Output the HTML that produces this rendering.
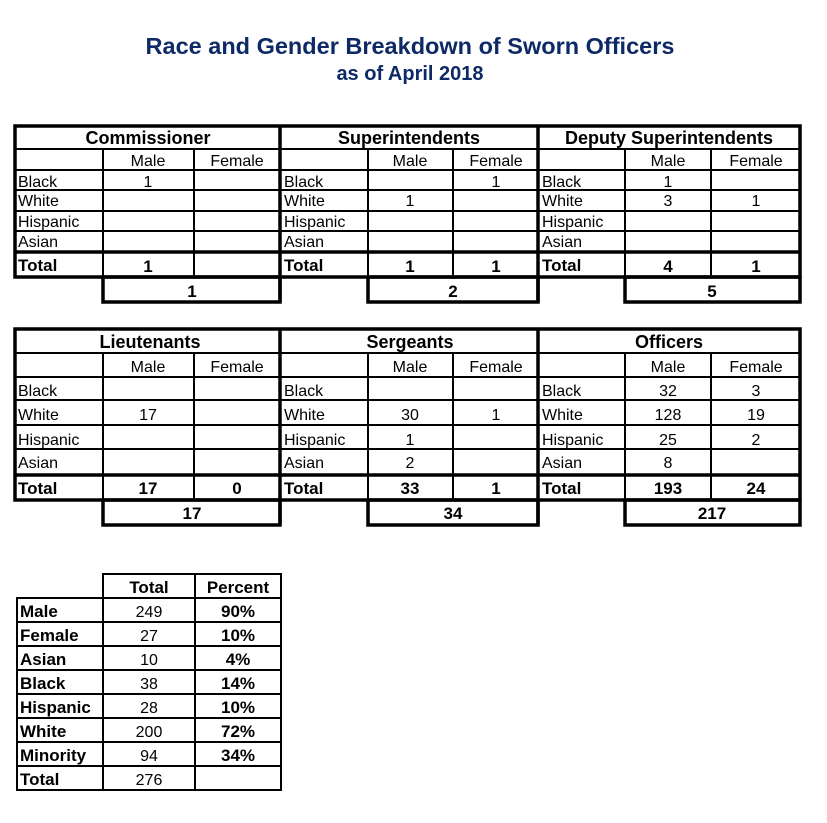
<!DOCTYPE html>
<html><head><meta charset="utf-8"><style>
html,body{margin:0;padding:0;background:#fff;}
svg{display:block;font-family:"Liberation Sans",Arial,sans-serif;}
.h{font-weight:bold;font-size:18px;text-anchor:middle;}
.s{font-size:16px;text-anchor:middle;}
.l{font-size:16px;}
.lb{font-size:17px;font-weight:bold;}
.b{font-size:17px;font-weight:bold;text-anchor:middle;}
.n{font-size:16px;text-anchor:middle;}
</style></head><body>
<svg width="827" height="823" viewBox="0 0 827 823" xmlns="http://www.w3.org/2000/svg">
<rect width="827" height="823" fill="#fff"/>
<text x="410" y="54" text-anchor="middle" font-size="23.5" font-weight="bold" fill="#0e2a66">Race and Gender Breakdown of Sworn Officers</text>
<text x="410" y="80" text-anchor="middle" font-size="20" font-weight="bold" fill="#0e2a66">as of April 2018</text>

<!-- TOP TABLE -->
<g stroke="#000" fill="none">
<g stroke-width="2">
<line x1="15" y1="149" x2="800" y2="149"/>
<line x1="15" y1="170" x2="800" y2="170"/>
<line x1="15" y1="190" x2="800" y2="190"/>
<line x1="15" y1="211" x2="800" y2="211"/>
<line x1="15" y1="231" x2="800" y2="231"/>
<line x1="103" y1="149" x2="103" y2="277"/><line x1="194" y1="149" x2="194" y2="277"/>
<line x1="368" y1="149" x2="368" y2="277"/><line x1="453" y1="149" x2="453" y2="277"/>
<line x1="625" y1="149" x2="625" y2="277"/><line x1="711" y1="149" x2="711" y2="277"/>
</g>
<g stroke-width="3.5">
<rect x="15" y="126" width="785" height="151"/>
<line x1="15" y1="252" x2="800" y2="252"/>
<line x1="280" y1="126" x2="280" y2="302"/>
<line x1="538" y1="126" x2="538" y2="302"/>
<rect x="103" y="277" width="177" height="25"/>
<rect x="368" y="277" width="170" height="25"/>
<rect x="625" y="277" width="175" height="25"/>
</g>
</g>
<text class="h" x="148" y="144">Commissioner</text>
<text class="h" x="409" y="144">Superintendents</text>
<text class="h" x="669" y="144">Deputy Superintendents</text>
<text class="s" x="148" y="166">Male</text><text class="s" x="237" y="166">Female</text>
<text class="s" x="410" y="166">Male</text><text class="s" x="496" y="166">Female</text>
<text class="s" x="668" y="166">Male</text><text class="s" x="756" y="166">Female</text>
<text class="l" x="18" y="187">Black</text><text class="l" x="18" y="206">White</text><text class="l" x="18" y="227">Hispanic</text><text class="l" x="18" y="247">Asian</text>
<text class="l" x="284" y="187">Black</text><text class="l" x="284" y="206">White</text><text class="l" x="284" y="227">Hispanic</text><text class="l" x="284" y="247">Asian</text>
<text class="l" x="542" y="187">Black</text><text class="l" x="542" y="206">White</text><text class="l" x="542" y="227">Hispanic</text><text class="l" x="542" y="247">Asian</text>
<text class="lb" x="18" y="271">Total</text><text class="lb" x="284" y="271">Total</text><text class="lb" x="542" y="271">Total</text>
<text class="n" x="148" y="187">1</text>
<text class="n" x="496" y="187">1</text>
<text class="n" x="410" y="206">1</text>
<text class="n" x="668" y="187">1</text>
<text class="n" x="668" y="206">3</text><text class="n" x="756" y="206">1</text>
<text class="b" x="148" y="272">1</text>
<text class="b" x="410" y="272">1</text><text class="b" x="496" y="272">1</text>
<text class="b" x="668" y="272">4</text><text class="b" x="756" y="272">1</text>
<text class="b" x="192" y="297">1</text>
<text class="b" x="453" y="297">2</text>
<text class="b" x="712" y="297">5</text>

<!-- BOTTOM TABLE -->
<g stroke="#000" fill="none">
<g stroke-width="2">
<line x1="15" y1="353" x2="800" y2="353"/>
<line x1="15" y1="377" x2="800" y2="377"/>
<line x1="15" y1="400" x2="800" y2="400"/>
<line x1="15" y1="425" x2="800" y2="425"/>
<line x1="15" y1="449" x2="800" y2="449"/>
<line x1="103" y1="353" x2="103" y2="500"/><line x1="194" y1="353" x2="194" y2="500"/>
<line x1="368" y1="353" x2="368" y2="500"/><line x1="453" y1="353" x2="453" y2="500"/>
<line x1="625" y1="353" x2="625" y2="500"/><line x1="711" y1="353" x2="711" y2="500"/>
</g>
<g stroke-width="3.5">
<rect x="15" y="329" width="785" height="171"/>
<line x1="15" y1="475" x2="800" y2="475"/>
<line x1="280" y1="329" x2="280" y2="525"/>
<line x1="538" y1="329" x2="538" y2="525"/>
<rect x="103" y="500" width="177" height="25"/>
<rect x="368" y="500" width="170" height="25"/>
<rect x="625" y="500" width="175" height="25"/>
</g>
</g>
<text class="h" x="150" y="348">Lieutenants</text>
<text class="h" x="410" y="348">Sergeants</text>
<text class="h" x="669" y="348">Officers</text>
<text class="s" x="148" y="372">Male</text><text class="s" x="237" y="372">Female</text>
<text class="s" x="410" y="372">Male</text><text class="s" x="496" y="372">Female</text>
<text class="s" x="668" y="372">Male</text><text class="s" x="756" y="372">Female</text>
<text class="l" x="18" y="396">Black</text><text class="l" x="18" y="420">White</text><text class="l" x="18" y="445">Hispanic</text><text class="l" x="18" y="468">Asian</text>
<text class="l" x="284" y="396">Black</text><text class="l" x="284" y="420">White</text><text class="l" x="284" y="445">Hispanic</text><text class="l" x="284" y="468">Asian</text>
<text class="l" x="542" y="396">Black</text><text class="l" x="542" y="420">White</text><text class="l" x="542" y="445">Hispanic</text><text class="l" x="542" y="468">Asian</text>
<text class="lb" x="18" y="494">Total</text><text class="lb" x="284" y="494">Total</text><text class="lb" x="542" y="494">Total</text>
<text class="n" x="148" y="420">17</text>
<text class="n" x="410" y="420">30</text><text class="n" x="496" y="420">1</text>
<text class="n" x="410" y="445">1</text>
<text class="n" x="410" y="468">2</text>
<text class="n" x="668" y="396">32</text><text class="n" x="756" y="396">3</text>
<text class="n" x="668" y="420">128</text><text class="n" x="756" y="420">19</text>
<text class="n" x="668" y="445">25</text><text class="n" x="756" y="445">2</text>
<text class="n" x="668" y="468">8</text>
<text class="b" x="148" y="494">17</text><text class="b" x="237" y="494">0</text>
<text class="b" x="410" y="494">33</text><text class="b" x="496" y="494">1</text>
<text class="b" x="668" y="494">193</text><text class="b" x="756" y="494">24</text>
<text class="b" x="192" y="519">17</text>
<text class="b" x="453" y="519">34</text>
<text class="b" x="712" y="519">217</text>

<!-- SUMMARY -->
<g stroke="#000" fill="none" stroke-width="2">
<rect x="103" y="574" width="178" height="216"/>
<rect x="17" y="598" width="264" height="192"/>
<line x1="195" y1="574" x2="195" y2="790"/>
<line x1="17" y1="622" x2="281" y2="622"/>
<line x1="17" y1="646" x2="281" y2="646"/>
<line x1="17" y1="670" x2="281" y2="670"/>
<line x1="17" y1="694" x2="281" y2="694"/>
<line x1="17" y1="718" x2="281" y2="718"/>
<line x1="17" y1="742" x2="281" y2="742"/>
<line x1="17" y1="766" x2="281" y2="766"/>
</g>
<text class="b" x="149" y="593">Total</text><text class="b" x="238" y="593">Percent</text>
<text class="lb" x="20" y="617">Male</text><text class="n" x="149" y="617">249</text><text class="b" x="238" y="617">90%</text>
<text class="lb" x="20" y="641">Female</text><text class="n" x="149" y="641">27</text><text class="b" x="238" y="641">10%</text>
<text class="lb" x="20" y="665">Asian</text><text class="n" x="149" y="665">10</text><text class="b" x="238" y="665">4%</text>
<text class="lb" x="20" y="689">Black</text><text class="n" x="149" y="689">38</text><text class="b" x="238" y="689">14%</text>
<text class="lb" x="20" y="713">Hispanic</text><text class="n" x="149" y="713">28</text><text class="b" x="238" y="713">10%</text>
<text class="lb" x="20" y="737">White</text><text class="n" x="149" y="737">200</text><text class="b" x="238" y="737">72%</text>
<text class="lb" x="20" y="761">Minority</text><text class="n" x="149" y="761">94</text><text class="b" x="238" y="761">34%</text>
<text class="lb" x="20" y="785">Total</text><text class="n" x="149" y="785">276</text>
</svg>
</body></html>
